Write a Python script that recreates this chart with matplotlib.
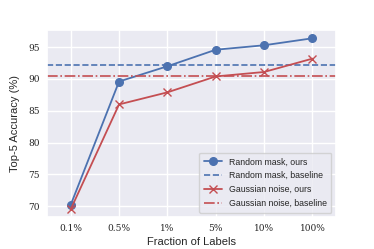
import matplotlib
matplotlib.use("Agg")
import matplotlib.pyplot as plt
import seaborn as sns

fractions = ["0.1%", "0.5%", "1%", "5%", "10%", "100%"]
mask_ours = [70.2, 89.6, 92.0, 94.6, 95.3, 96.4]
noise_ours = [69.5, 86.0, 87.9, 90.4, 91.1, 93.2]
mask_baseline = 92.2
noise_baseline = 90.45
yticks = [70, 75, 80, 85, 90, 95]

sns.set_theme(style="darkgrid")
plt.rcParams["font.family"] = ["Liberation Sans", "DejaVu Sans"]

blue = "#4C72B0"
red = "#C44E52"

fig = plt.figure(figsize=(3.74, 2.49), dpi=100)
ax = fig.add_axes([47 / 374, 1 - 217 / 249, (335.7 - 47) / 374, (217 - 30) / 249])

xs = list(range(len(fractions)))
ax.plot(xs, mask_ours, color=blue, marker="o", markersize=5.5, linewidth=1.3,
        label="Random mask, ours")
ax.axhline(mask_baseline, color=blue, linestyle="--", linewidth=1.2,
           label="Random mask, baseline")
ax.plot(xs, noise_ours, color=red, marker="x", markersize=5.5, linewidth=1.3,
        label="Gaussian noise, ours")
ax.axhline(noise_baseline, color=red, linestyle="-.", linewidth=1.2,
           label="Gaussian noise, baseline")

ax.set_xlim(-0.49, 5.48)
ax.set_ylim(68.3, 97.7)
ax.set_xticks(xs)
ax.set_xticklabels(fractions, family="DejaVu Serif", fontsize=6.5)
ax.set_yticks(yticks)
ax.set_yticklabels([str(v) for v in yticks], family="DejaVu Serif", fontsize=6.5)
ax.tick_params(axis="both", length=0, pad=5)
ax.set_xlabel("Fraction of Labels", fontsize=8)
ax.set_ylabel("Top-5 Accuracy (%)", fontsize=8)
ax.xaxis.set_label_coords(0.5, -0.105)
ax.yaxis.set_label_coords(-0.095, 0.5)

ax.legend(loc="lower right", fontsize=6.3, frameon=True, handlelength=2.1,
          borderpad=0.55, labelspacing=0.55, handletextpad=0.7)

fig.savefig("out.png", dpi=100)
